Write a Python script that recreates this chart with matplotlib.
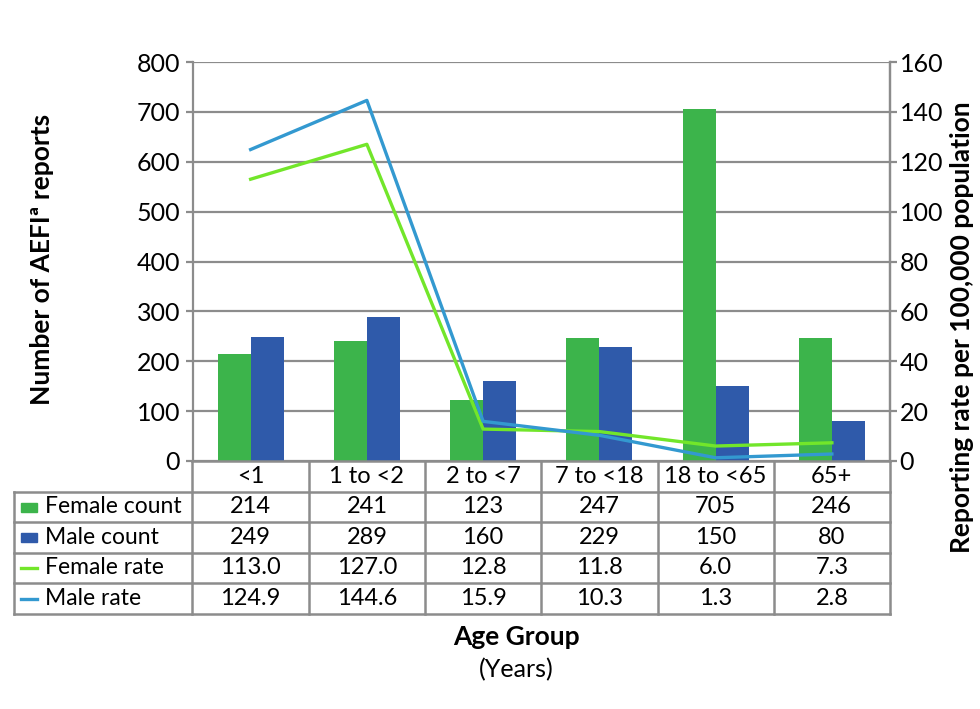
import numpy as np
import matplotlib.pyplot as plt
from matplotlib.patches import Rectangle

plt.rcParams['font.family'] = ['Lato', 'DejaVu Sans']

# Data
age_groups = ['<1', '1 to <2', '2 to <7', '7 to <18', '18 to <65', '65+']
female_count = [214, 241, 123, 247, 705, 246]
male_count = [249, 289, 160, 229, 150, 80]
female_rate = [113.0, 127.0, 12.8, 11.8, 6.0, 7.3]
male_rate = [124.9, 144.6, 15.9, 10.3, 1.3, 2.8]

row_labels = ['Female count', 'Male count', 'Female rate', 'Male rate']

c_fc = '#3cb44b'
c_mc = '#2f5aaa'
c_fr = '#72e62a'
c_mr = '#3399d0'
gray = '#8c8c8c'

W, H = 980, 709
fig = plt.figure(figsize=(9.8, 7.09), dpi=100)

# main plot area in pixel coordinates
L, R, T, B = 192.5, 890, 62, 461
ax = fig.add_axes([L / W, 1 - B / H, (R - L) / W, (B - T) / H])
x = np.arange(len(age_groups))
bw = 0.284
ax.bar(x - bw / 2, female_count, bw, color=c_fc, zorder=2)
ax.bar(x + bw / 2, male_count, bw, color=c_mc, zorder=2)
ax.set_xlim(-0.5, len(age_groups) - 0.5)
ax.set_ylim(0, 800)
ax.set_yticks(range(0, 801, 100))
ax.set_xticks([])
ax.set_axisbelow(True)
ax.yaxis.grid(True, color=gray, lw=1.6)
for s in ['top', 'bottom']:
    ax.spines[s].set_visible(False)
for s in ['left', 'right']:
    ax.spines[s].set_color(gray)
    ax.spines[s].set_linewidth(1.6)
ax.tick_params(axis='y', colors=gray, width=1.6, length=5, labelsize=18, labelcolor='black', pad=4)

ax2 = ax.twinx()
ax2.plot(x, female_rate, color=c_fr, lw=2.4, zorder=3)
ax2.plot(x, male_rate, color=c_mr, lw=2.4, zorder=3)
ax2.set_ylim(0, 160)
ax2.set_yticks(range(0, 161, 20))
for s in ['top', 'bottom', 'left']:
    ax2.spines[s].set_visible(False)
ax2.spines['right'].set_color(gray)
ax2.spines['right'].set_linewidth(1.6)
ax2.tick_params(axis='y', colors=gray, width=1.6, length=5, labelsize=18, labelcolor='black', pad=2)

# data table below the plot
TL, TB = 14, 614
tab = fig.add_axes([TL / W, 1 - TB / H, (R - TL) / W, (TB - B) / H])
colw = (R - L) / len(age_groups)
x0 = -0.5 - (L - TL) / colw
tab.set_xlim(x0, len(age_groups) - 0.5)
tab.set_ylim(TB - B, 0)
tab.axis('off')
rows_y = [0, 30.7, 60.7, 91.7, 122, 153]
lkw = dict(color=gray, lw=1.8, clip_on=False, solid_capstyle='projecting')
# horizontal lines
tab.plot([-0.5, 5.5], [rows_y[0], rows_y[0]], **lkw)
for yy in rows_y[1:]:
    tab.plot([x0, 5.5], [yy, yy], **lkw)
# vertical lines
tab.plot([x0, x0], [rows_y[1], rows_y[-1]], **lkw)
for i in range(len(age_groups) + 1):
    tab.plot([i - 0.5, i - 0.5], [rows_y[0], rows_y[-1]], **lkw)

fs = 17
for i, g in enumerate(age_groups):
    tab.text(i, (rows_y[0] + rows_y[1]) / 2, g, ha='center', va='center', fontsize=fs)

values = [[str(v) for v in female_count], [str(v) for v in male_count],
          ['%.1f' % v for v in female_rate], ['%.1f' % v for v in male_rate]]
colors = [c_fc, c_mc, c_fr, c_mr]
px = 1 / colw  # one pixel in table x units
for r in range(4):
    yc = (rows_y[r + 1] + rows_y[r + 2]) / 2
    for i, v in enumerate(values[r]):
        tab.text(i, yc, v, ha='center', va='center', fontsize=fs)
    tab.text(x0 + 31 * px, yc, row_labels[r], ha='left', va='center', fontsize=16.5)
    if r < 2:
        tab.add_patch(Rectangle((x0 + 7 * px, yc - 4), 16 * px, 9, color=colors[r], clip_on=False))
    else:
        tab.plot([x0 + 7 * px, x0 + 23 * px], [yc + 0.5, yc + 0.5], color=colors[r], lw=2.4, clip_on=False)

# axis titles
fig.text(42 / W, 1 - 259 / H, 'Number of AEFIª reports', rotation=90, ha='center', va='center',
         fontsize=19, fontweight='bold')
fig.text(962 / W, 1 - 327 / H, 'Reporting rate per 100,000 population', rotation=90,
         ha='center', va='center', fontsize=19, fontweight='bold')
fig.text(516 / W, 1 - 637 / H, 'Age Group', ha='center', va='center', fontsize=19, fontweight='bold')
fig.text(516 / W, 1 - 670 / H, '(Years)', ha='center', va='center', fontsize=18)

fig.savefig('out.png', dpi=100)
